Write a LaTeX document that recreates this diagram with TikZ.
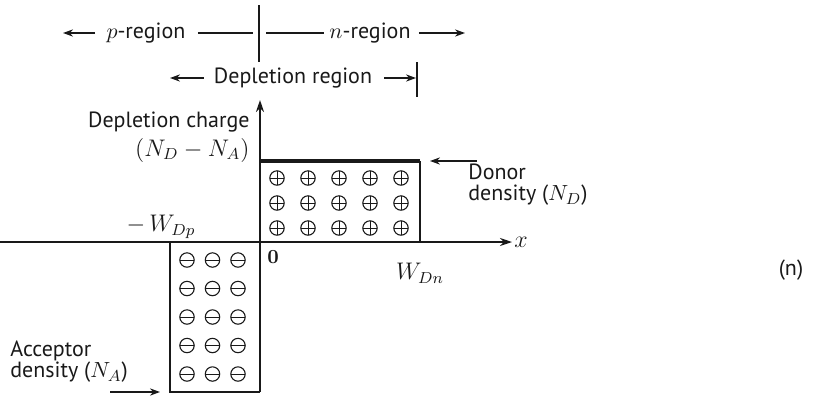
\documentclass[tikz,border=0pt]{standalone}
\usepackage{fontspec}
\setsansfont{PT Sans}
\usepackage{tikz}
\usetikzlibrary{arrows.meta,positioning,calc}
\definecolor{ink}{RGB}{25,25,25}

\begin{document}
\begin{tikzpicture}[x=0.5pt, y=-0.5pt, ink,
    every node/.style={font=\sffamily\fontsize{11}{10.5}\selectfont, inner sep=1pt},
    pointer/.style={-{Stealth[length=5pt,width=3.6pt]}, line width=0.6pt},
    axis/.style={-{Stealth[length=6pt,width=4pt]}, line width=0.9pt},
    edge/.style={line width=1.2pt},
    donor/.style={circle, draw, line width=0.55pt, minimum size=7.2pt, inner sep=0pt,
      path picture={\draw[line width=0.5pt] (path picture bounding box.north) -- (path picture bounding box.south)
        (path picture bounding box.west) -- (path picture bounding box.east);}},
    acceptor/.style={circle, draw, line width=0.55pt, minimum size=7.2pt, inner sep=0pt,
      path picture={\draw[line width=0.5pt] (path picture bounding box.west) -- (path picture bounding box.east);}}]
  \useasboundingbox (0,0) rectangle (824,398);
  % --- region labels on top ---
  \node (preg) at (146,33) {$p$-region};
  \node (nreg) at (370,33) {$n$-region};
  \coordinate (pleft) at (63,33);
  \coordinate (pdash) at (253,33);
  \coordinate (ndash) at (266,33);
  \coordinate (nright) at (465,33);
  \coordinate (junctop) at (259,5);
  \coordinate (juncbot) at (259,62);
  \draw[line width=0.6pt] (junctop) -- (juncbot);
  \draw[pointer] ([xshift=-4.5pt]preg.west) -- (pleft);
  \draw[line width=0.6pt] ([xshift=5pt]preg.east) -- (pdash);
  \draw[line width=0.6pt] (ndash) -- ([xshift=-1.5pt]nreg.west);
  \draw[pointer] ([xshift=3pt]nreg.east) -- (nright);
  % --- depletion region ---
  \node (dep) at (293,78) {Depletion region};
  \coordinate (depleft) at (170,78);
  \coordinate (depright) at (416,78);
  \coordinate (bartop) at (417,62);
  \coordinate (barbot) at (417,97);
  \draw[line width=0.6pt] (bartop) -- (barbot);
  \draw[pointer] ([xshift=-4pt]dep.west) -- (depleft);
  \draw[pointer] ([xshift=5pt]dep.east) -- (depright);
  % --- axes ---
  \coordinate (O) at (259,242);
  \coordinate (xstart) at (0,242);
  \coordinate (xend) at (512,242);
  \coordinate (ytop) at (260,100);
  \coordinate (ybot) at (260,392);
  \draw[axis] (xstart) -- (xend);
  \draw[axis] (ybot) -- (ytop);
  \node[anchor=west, font=\large] (xlab) at (xend) {$x$};
  \node[anchor=north west, font=\rmfamily\bfseries] (zero) at (265,248) {0};
  % --- donor box ---
  \coordinate (dl) at (260,161);
  \coordinate (dr) at (420,161);
  \coordinate (wdn) at (420,242);
  \draw[line width=1.6pt] (dl) -- (dr);
  \draw[edge] (dr) -- (wdn);
  \foreach \i in {0,...,4}
    \foreach \j in {0,1,2}
      \node[donor] (d\i\j) at (277+31*\i,178+25*\j) {};
  % --- acceptor box ---
  \coordinate (wdp) at (170,242);
  \coordinate (al) at (170,392);
  \coordinate (ar) at (260,392);
  \draw[edge] (wdp) -- (al) -- (ar);
  \foreach \i in {0,1,2}
    \foreach \j in {0,...,4}
      \node[acceptor] (a\i\j) at (187+25.5*\i,260+28.5*\j) {};
  % --- axis labels ---
  \node[anchor=east, inner sep=0pt] (charge) at (250,122) {Depletion charge};
  \node[anchor=east, inner sep=0pt, font=\large] (diff) at (250,150) {$(N_D - N_A)$};
  \node[font=\large] (wdplab) at (161,227) {$-\,W_{Dp}$};
  \node[font=\large] (wdnlab) at (420,273) {$W_{Dn}$};
  % --- donor density ---
  \node[anchor=west, align=left] (donlab) at (466,185) {Donor\\density ($N_D$)};
  \coordinate (dontail) at (477,161);
  \coordinate (dontip) at (430,161);
  \draw[pointer] (dontail) -- (dontip);
  % --- acceptor density ---
  \node[anchor=west, align=left] (acclab) at (8,362) {Acceptor\\density ($N_A$)};
  \coordinate (acctail) at (110,392);
  \coordinate (acctip) at (160,392);
  \draw[pointer] (acctail) -- (acctip);
  % --- panel tag ---
  \node (tag) at (791,270) {(n)};
\end{tikzpicture}
\end{document}
